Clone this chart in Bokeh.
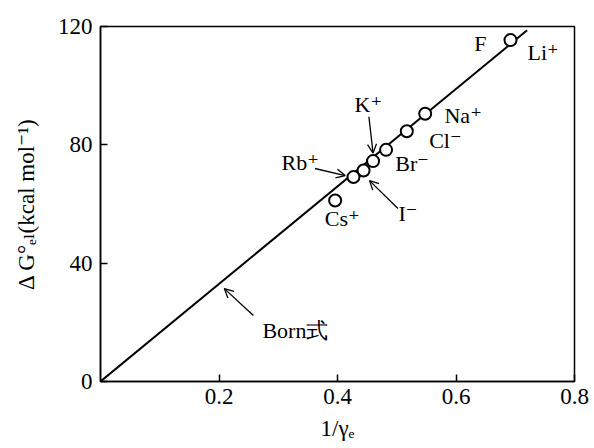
from bokeh.plotting import figure
from bokeh.models import FixedTicker, Arrow, OpenHead, Label, ColumnDataSource
from bokeh.embed import file_html
from bokeh.resources import INLINE

# ---- data ----
ions = ["Li⁺", "Na⁺", "Cl⁻", "Br⁻", "K⁺", "I⁻", "Rb⁺", "Cs⁺"]
inv_r = [0.692, 0.548, 0.517, 0.482, 0.460, 0.444, 0.427, 0.396]
dG = [115.4, 90.5, 84.6, 78.3, 74.5, 71.3, 69.1, 61.2]

born_x = [0.0, 0.72]
born_y = [0.0, 118.7]

x_ticks = [0.2, 0.4, 0.6, 0.8]
y_ticks = [0, 40, 80, 120]

# label texts and anchor positions (data units)
label_text = ["F", "Li⁺", "K⁺", "Na⁺", "Cl⁻", "Br⁻", "Rb⁺", "I⁻", "Cs⁺", "Born式"]
label_x = [0.641, 0.747, 0.452, 0.612, 0.582, 0.526, 0.337, 0.519, 0.408, 0.329]
label_y = [114.3, 111.2, 93.8, 89.9, 81.5, 73.7, 74.0, 56.8, 55.1, 17.2]

# arrows: start -> end (data units)
arr_x0 = [0.453, 0.362, 0.502, 0.258]
arr_y0 = [89.5, 72.0, 58.5, 22.3]
arr_x1 = [0.460, 0.413, 0.454, 0.209]
arr_y1 = [77.2, 69.6, 67.9, 31.4]

FONT = "Liberation Serif, DejaVu Serif, serif"

p = figure(width=594, height=448, output_backend="svg", toolbar_location=None,
           x_range=(0, 0.8), y_range=(0, 120),
           min_border_left=100, min_border_right=20, min_border_top=26, min_border_bottom=67)

p.xgrid.visible = False
p.ygrid.visible = False
p.outline_line_color = "black"
p.outline_line_width = 1.5
p.background_fill_color = "white"
p.border_fill_color = "white"

for ax in (p.xaxis[0], p.yaxis[0]):
    ax.axis_line_width = 1.5
    ax.axis_line_color = "black"
    ax.major_tick_in = 7
    ax.major_tick_out = 0
    ax.major_tick_line_width = 1.5
    ax.minor_tick_line_color = None
    ax.major_label_text_font = FONT
    ax.major_label_text_font_size = "23px"
    ax.major_label_text_color = "black"
    ax.axis_label_text_font = FONT
    ax.axis_label_text_font_size = "23px"
    ax.axis_label_text_font_style = "normal"
    ax.axis_label_text_color = "black"

p.xaxis.ticker = FixedTicker(ticks=x_ticks)
p.yaxis.ticker = FixedTicker(ticks=y_ticks)
p.xaxis.major_label_standoff = 7
p.yaxis.major_label_standoff = 8
p.xaxis.axis_label = "1/γₑ"
p.yaxis.axis_label = "Δ G°ₑₗ(kcal mol⁻¹)"
p.xaxis.axis_label_standoff = 9
p.yaxis.axis_label_standoff = 16

# Born line
p.line(born_x, born_y, line_color="black", line_width=2)

# data points
src = ColumnDataSource(dict(x=inv_r, y=dG, ion=ions))
p.scatter("x", "y", source=src, size=12, fill_color="white",
          line_color="black", line_width=2)

# arrows
for x0, y0, x1, y1 in zip(arr_x0, arr_y0, arr_x1, arr_y1):
    p.add_layout(Arrow(x_start=x0, y_start=y0, x_end=x1, y_end=y1,
                       line_color="black", line_width=1.3,
                       end=OpenHead(size=9, line_color="black", line_width=1.3)))

# text labels
for t, x, y in zip(label_text, label_x, label_y):
    p.add_layout(Label(x=x, y=y, text=t, text_font=FONT, text_font_size="22px",
                       text_color="black", text_align="center", text_baseline="middle"))

open("out.html", "w").write(file_html(p, INLINE))
